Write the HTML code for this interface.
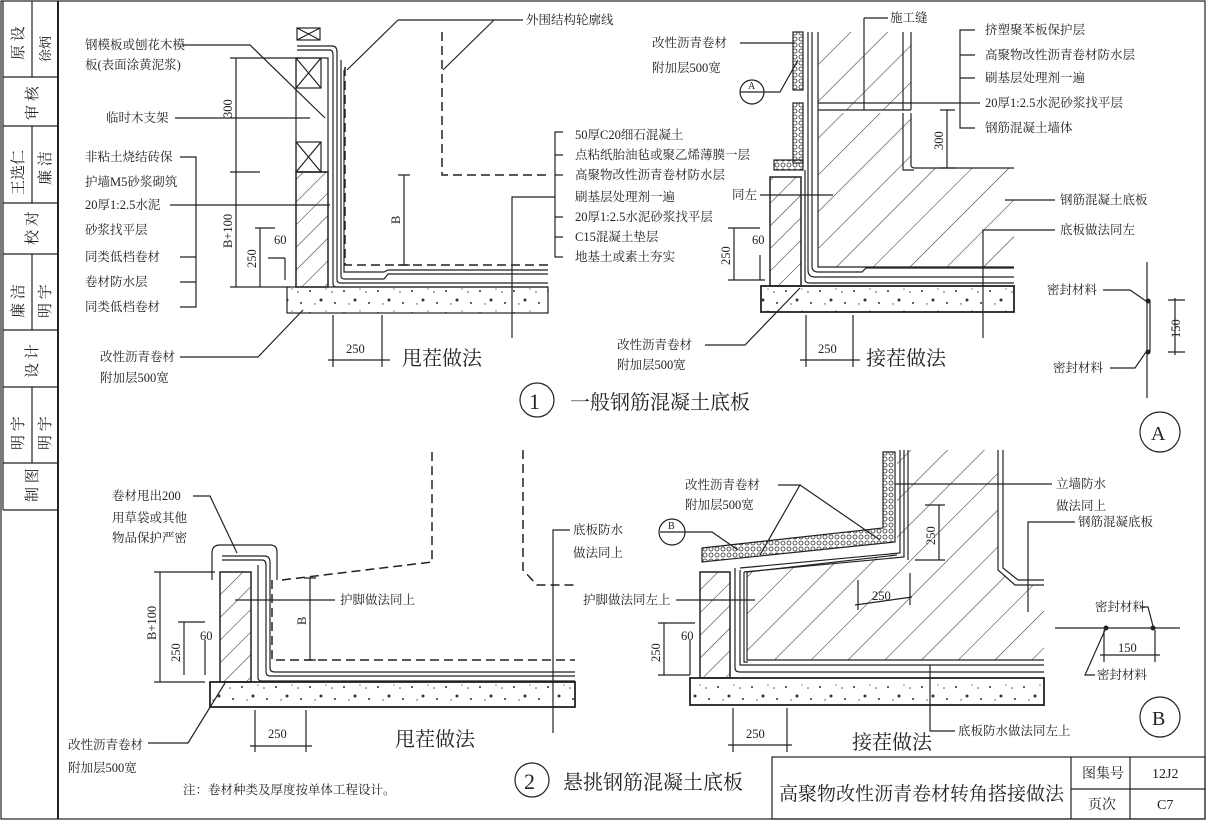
<!DOCTYPE html>
<html><head><meta charset="utf-8"><style>
html,body{margin:0;padding:0;background:#fff;}
svg{display:block;}
text{fill:#222;}
.t{font-family:"Liberation Serif","Noto Serif CJK SC",serif;}
.ln{stroke:#222;stroke-width:1.2;fill:none;}
.th{stroke:#222;stroke-width:2;fill:none;}
.ds{stroke:#222;stroke-width:1.5;fill:none;stroke-dasharray:9 5;}
</style></head><body>
<svg width="1206" height="821" viewBox="0 0 1206 821" xmlns="http://www.w3.org/2000/svg" font-size="12.5">
<defs>
<pattern id="h1" width="16" height="16" patternUnits="userSpaceOnUse" patternTransform="rotate(45)"><line x1="0" y1="0" x2="0" y2="16" stroke="#333" stroke-width="1.1"/></pattern>
<pattern id="h2" width="26" height="26" patternUnits="userSpaceOnUse" patternTransform="rotate(45)"><line x1="0" y1="0" x2="0" y2="26" stroke="#333" stroke-width="1.1"/></pattern>
<pattern id="dt" width="34" height="22" patternUnits="userSpaceOnUse"><circle cx="4" cy="5" r="1" fill="#333"/><circle cx="15" cy="14" r="1.5" fill="#333"/><circle cx="26" cy="6" r="0.8" fill="#444"/><circle cx="29" cy="17" r="1" fill="#333"/><circle cx="9" cy="18" r="0.7" fill="#444"/><circle cx="20" cy="3" r="0.6" fill="#444"/></pattern>
<pattern id="pb" width="6" height="6" patternUnits="userSpaceOnUse"><circle cx="3" cy="3" r="2" fill="none" stroke="#333" stroke-width="0.8"/></pattern>
</defs>

<rect x="1" y="1" width="1204" height="818" class="ln" stroke-width="1.5"/>
<line x1="58" y1="1" x2="58" y2="819" class="th"/>
<g class="ln">
<line x1="3" y1="1" x2="3" y2="510"/>
<line x1="3" y1="510" x2="58" y2="510"/>
<line x1="3" y1="77" x2="58" y2="77"/><line x1="3" y1="126" x2="58" y2="126"/>
<line x1="3" y1="203" x2="58" y2="203"/><line x1="3" y1="254" x2="58" y2="254"/>
<line x1="3" y1="330" x2="58" y2="330"/><line x1="3" y1="387" x2="58" y2="387"/>
<line x1="3" y1="463" x2="58" y2="463"/>
<line x1="32" y1="1" x2="32" y2="77"/><line x1="32" y1="126" x2="32" y2="203"/>
<line x1="32" y1="254" x2="32" y2="330"/><line x1="32" y1="387" x2="32" y2="463"/>
</g>
<g class="t" font-size="15">
<text transform="translate(23,60) rotate(-90)">原 设</text>
<text transform="translate(50,62) rotate(-90)" font-size="13">徐炳</text>
<text transform="translate(37,120) rotate(-90)">审 核</text>
<text transform="translate(23,195) rotate(-90)">王选仁</text>
<text transform="translate(50,185) rotate(-90)">廉 洁</text>
<text transform="translate(37,245) rotate(-90)">校 对</text>
<text transform="translate(23,318) rotate(-90)">廉 洁</text>
<text transform="translate(50,318) rotate(-90)">明 宇</text>
<text transform="translate(37,378) rotate(-90)">设 计</text>
<text transform="translate(23,450) rotate(-90)">明 宇</text>
<text transform="translate(50,450) rotate(-90)">明 宇</text>
<text transform="translate(37,502) rotate(-90)">制 图</text>
</g>

<!-- ===== Drawing 1 left ===== -->
<rect x="287" y="287" width="261" height="26" style="fill:url(#dt)" class="ln" stroke-width="1.8"/>
<rect x="296" y="172" width="32" height="115" style="fill:url(#h1);stroke:#222;stroke-width:1.5"/>
<rect x="296" y="58" width="32" height="114" class="ln"/>
<rect x="296" y="58" width="25" height="30" class="ln"/><path d="M296 58L321 88M321 58L296 88" class="ln"/>
<rect x="296" y="142" width="25" height="30" class="ln"/><path d="M296 142L321 172M321 142L296 172" class="ln"/>
<rect x="297" y="28" width="23" height="12" class="ln"/><path d="M297 28L320 40M320 28L297 40" class="ln"/>
<path d="M297 46H332Q337 46 337 52V280Q337 283 341 283H548" class="ln"/>
<path d="M297 50H330Q333 50 333 55V284Q333 287 337 287H548" class="ln"/>
<path d="M341 60V276Q341 279 345 279H384L388 274H548" class="ln"/>
<path d="M344 70V272H384L388 270H548" class="ln" stroke-width="0.8"/>
<path d="M345 67V265H548" class="ds"/>
<path d="M442 32V175H548" class="ds"/>
<path d="M398 20H523M398 20L347 70M494 20L443 70" class="ln"/>
<g class="t">
<text x="526" y="24">外围结构轮廓线</text>
<text x="85" y="49">钢模板或刨花木模</text><text x="85" y="69">板(表面涂黄泥浆)</text>
<text x="106" y="122">临时木支架</text>
<text x="85" y="161">非粘土烧结砖保</text>
<text x="85" y="186">护墙M5砂浆砌筑</text>
<text x="85" y="209">20厚1:2.5水泥</text>
<text x="85" y="234">砂浆找平层</text>
<text x="85" y="261">同类低档卷材</text>
<text x="85" y="286">卷材防水层</text>
<text x="85" y="311">同类低档卷材</text>
<text x="100" y="361">改性沥青卷材</text><text x="100" y="382">附加层500宽</text>
</g>
<path d="M182 45H250L325 118" class="ln"/>
<path d="M175 118H310" class="ln"/>
<path d="M180 157H196V307H180M180 257H196M180 282H196M170 205H330" class="ln"/>
<path d="M180 357H258L303 310" class="ln"/>
<g class="ln">
<path d="M236 58V287M230 58H300M230 172H260M230 287H290"/>
<path d="M260 228V287M255 228H275M268 258H285M285 258V280"/>
<path d="M404 175V265M398 175H410M398 265H410"/>
<path d="M333 315V367M382 315V367M328 360H390"/>
</g>
<g class="t">
<text transform="translate(232,118) rotate(-90)">300</text>
<text transform="translate(232,248) rotate(-90)">B+100</text>
<text transform="translate(256,268) rotate(-90)">250</text>
<text x="274" y="244">60</text>
<text transform="translate(400,224) rotate(-90)">B</text>
<text x="346" y="353">250</text>
<text x="402" y="365" font-size="20">甩茬做法</text>
<text x="575" y="139">50厚C20细石混凝土</text>
<text x="575" y="159">点粘纸胎油毡或聚乙烯薄膜一层</text>
<text x="575" y="179">高聚物改性沥青卷材防水层</text>
<text x="575" y="201">刷基层处理剂一遍</text>
<text x="575" y="221">20厚1:2.5水泥砂浆找平层</text>
<text x="575" y="241">C15混凝土垫层</text>
<text x="575" y="261">地基土或素土夯实</text>
</g>
<path d="M563 132H555V257H563M555 155H563M555 175H563M555 217H563M555 237H563M555 197H512V338" class="ln"/>

<!-- ===== Drawing 1 right ===== -->
<path d="M818 32V110H911V32ZM818 113V267H1014V168H911V113Z" style="fill:url(#h2)"/>
<path d="M818 32V267H1014M911 32V110M818 110H911M911 113V165Q911 168 915 168H1014" class="ln" stroke-width="1.6"/>
<rect x="761" y="286" width="253" height="26" style="fill:url(#dt);stroke:#222;stroke-width:1.8"/>
<rect x="770" y="177" width="31" height="109" style="fill:url(#h1);stroke:#222;stroke-width:1.5"/>
<rect x="793" y="32" width="10" height="58" style="fill:url(#pb);stroke:#222;stroke-width:1.2"/>
<rect x="793" y="103" width="10" height="60" style="fill:url(#pb);stroke:#222;stroke-width:1.2"/>
<rect x="774" y="160" width="29" height="10" style="fill:url(#pb);stroke:#222;stroke-width:1.2"/>
<path d="M808 32V270Q808 277 815 277H1014M812 32V266Q812 272 818 272H862L866 268H1014M805 170V280Q805 283 810 283H1014" class="ln" stroke-width="1"/>
<path d="M903 32V110M903 113V170H914" class="ln"/>
<path d="M864 18H888M864 18V110" class="ln"/>
<path d="M975 30H960V128H975M960 55H975M960 78H975M980 103H818" class="ln"/>
<path d="M740 43H795" class="ln"/>
<circle cx="752" cy="92" r="12" class="ln"/><path d="M740 92H764M764 92H780L798 60" class="ln"/>
<path d="M760 195H833" class="ln"/>
<path d="M1055 200H1005" class="ln"/>
<path d="M1055 230H983V338" class="ln"/>
<path d="M705 345H745L800 288" class="ln"/>
<g class="ln">
<path d="M947 110V168M940 110H955M940 168H955"/>
<path d="M734 228V280M728 228H760M728 280H765M760 255V280"/>
<path d="M806 315V367M853 315V367M800 360H860"/>
</g>
<g class="t">
<text x="890" y="22">施工缝</text>
<text x="985" y="34">挤塑聚苯板保护层</text>
<text x="985" y="59">高聚物改性沥青卷材防水层</text>
<text x="985" y="82">刷基层处理剂一遍</text>
<text x="985" y="107">20厚1:2.5水泥砂浆找平层</text>
<text x="985" y="132">钢筋混凝土墙体</text>
<text x="652" y="47">改性沥青卷材</text><text x="652" y="72">附加层500宽</text>
<text x="748" y="89" font-size="10">A</text>
<text x="732" y="199">同左</text>
<text x="1060" y="204">钢筋混凝土底板</text>
<text x="1060" y="234">底板做法同左</text>
<text x="617" y="349">改性沥青卷材</text><text x="617" y="369">附加层500宽</text>
<text transform="translate(943,150) rotate(-90)">300</text>
<text transform="translate(730,265) rotate(-90)">250</text>
<text x="752" y="244">60</text>
<text x="818" y="353">250</text>
<text x="866" y="365" font-size="20">接茬做法</text>
<text transform="translate(1180,338) rotate(-90)">150</text>
<text x="1047" y="294">密封材料</text>
<text x="1053" y="372">密封材料</text>
<text x="1151" y="440" font-size="20">A</text>
<text x="529" y="409" font-size="22">1</text>
<text x="570" y="409" font-size="20">一般钢筋混凝土底板</text>
</g>
<path d="M1147 262V398M1150 300V352" class="ln"/>
<circle cx="1148" cy="301" r="2.5" fill="#222"/><circle cx="1148" cy="352" r="2.5" fill="#222"/>
<path d="M1175 298V355M1168 300H1185M1168 352H1185" class="ln"/>
<path d="M1103 290H1130L1146 301" class="ln"/>
<path d="M1110 368H1135L1146 352" class="ln"/>
<circle cx="1160" cy="432" r="20" class="ln"/>
<circle cx="537" cy="400" r="17" class="ln" stroke-width="1.5"/>

<!-- ===== Drawing 2 left ===== -->
<rect x="210" y="682" width="365" height="25" style="fill:url(#dt);stroke:#222;stroke-width:1.8"/>
<rect x="220" y="572" width="31" height="110" style="fill:url(#h1);stroke:#222;stroke-width:1.5"/>
<path d="M212 580V553Q212 545 220 545H270Q277 545 277 552V580" class="ln"/>
<path d="M222 560H262Q266 560 266 565V672Q266 676 270 676H575M222 556H264Q270 556 270 562V668Q270 672 275 672H575M258 565V678Q258 681 262 681H575" class="ln" stroke-width="1"/>
<path d="M272 580V660H575" class="ds"/>
<path d="M282 580L432 562V450" class="ds"/>
<path d="M523 450V570L537 585H575" class="ds"/>
<path d="M193 496H210L237 553" class="ln"/>
<path d="M235 600H335" class="ln"/>
<path d="M148 743H188L225 683" class="ln"/>
<path d="M570 530H553V733" class="ln"/>
<g class="ln">
<path d="M160 572V682M154 572H215M154 682H205"/>
<path d="M184 622V675M178 622H205M205 640V675"/>
<path d="M310 578V660M304 578H316M304 660H316"/>
<path d="M255 710V752M306 710V752M250 746H312"/>
</g>
<g class="t">
<text x="112" y="500">卷材甩出200</text><text x="112" y="522">用草袋或其他</text><text x="112" y="542">物品保护严密</text>
<text x="340" y="604">护脚做法同上</text>
<text x="68" y="749">改性沥青卷材</text><text x="68" y="772">附加层500宽</text>
<text x="183" y="794">注：卷材种类及厚度按单体工程设计。</text>
<text x="573" y="534">底板防水</text><text x="573" y="557">做法同上</text>
<text transform="translate(156,640) rotate(-90)">B+100</text>
<text transform="translate(180,662) rotate(-90)">250</text>
<text x="200" y="640">60</text>
<text transform="translate(306,625) rotate(-90)">B</text>
<text x="268" y="738">250</text>
<text x="395" y="746" font-size="20">甩茬做法</text>
<text x="524" y="789" font-size="22">2</text>
<text x="563" y="789" font-size="20">悬挑钢筋混凝土底板</text>
</g>
<circle cx="532" cy="780" r="17" class="ln" stroke-width="1.5"/>

<!-- ===== Drawing 2 right ===== -->
<path d="M747 572L897 555V450H998V570L1015 585H1044V660H747Z" style="fill:url(#h2)"/>
<path d="M747 572L897 555M908 450V560M998 450V570L1015 585H1044M747 572V660H1044" class="ln" stroke-width="1.5"/>
<path d="M1003 450V568L1018 580H1044" class="ln"/>
<path d="M702 548L883 528V452H895V542L702 562Z" style="fill:url(#pb);stroke:#222;stroke-width:1.2"/>
<path d="M900 450V553L740 568M904 450V557L744 572" class="ln" stroke-width="0.9"/>
<rect x="690" y="678" width="354" height="27" style="fill:url(#dt);stroke:#222;stroke-width:1.8"/>
<rect x="700" y="572" width="30" height="106" style="fill:url(#h1);stroke:#222;stroke-width:1.5"/>
<path d="M735 568V668Q735 672 740 672H1044M740 570V665H1044M744 572V662H748" class="ln" stroke-width="1"/>
<path d="M778 485H800L760 555M800 485L880 540" class="ln"/>
<circle cx="672" cy="532" r="13" class="ln"/><path d="M660 532H684M684 532H712L738 550" class="ln"/>
<path d="M676 600H755" class="ln"/>
<path d="M1052 484H895" class="ln"/>
<path d="M1075 522H1028V612" class="ln"/>
<path d="M955 731H930V665" class="ln"/>
<g class="ln">
<path d="M939 505V560M925 505H945M915 560H945"/>
<path d="M858 580V610M910 573V605M855 605L912 597"/>
<path d="M664 623V675M658 623H695M658 675H690M690 640V675"/>
<path d="M733 708V752M787 708V752M728 745H792"/>
</g>
<path d="M1055 628H1180" class="ln"/>
<circle cx="1106" cy="628" r="2.5" fill="#222"/><circle cx="1153" cy="628" r="2.5" fill="#222"/>
<path d="M1104 630V662M1155 630V662M1100 655H1160" class="ln"/>
<path d="M1140 607H1148L1153 626" class="ln"/>
<path d="M1095 675H1085L1105 630" class="ln"/>
<circle cx="1160" cy="717" r="20" class="ln"/>
<g class="t">
<text x="685" y="489">改性沥青卷材</text><text x="685" y="509">附加层500宽</text>
<text x="668" y="529" font-size="10">B</text>
<text x="583" y="604">护脚做法同左上</text>
<text x="1056" y="488">立墙防水</text><text x="1056" y="510">做法同上</text>
<text x="1078" y="526">钢筋混凝底板</text>
<text x="958" y="735">底板防水做法同左上</text>
<text transform="translate(935,545) rotate(-90)">250</text>
<text x="872" y="600">250</text>
<text transform="translate(660,662) rotate(-90)">250</text>
<text x="681" y="640">60</text>
<text x="746" y="738">250</text>
<text x="852" y="749" font-size="20">接茬做法</text>
<text x="1118" y="652">150</text>
<text x="1095" y="611">密封材料</text>
<text x="1097" y="679">密封材料</text>
<text x="1152" y="725" font-size="20">B</text>
</g>

<!-- title block -->
<rect x="772" y="757" width="433" height="62" class="ln" stroke-width="1.8"/>
<path d="M1071 757V819M1130 757V819M1071 789H1205" class="ln"/>
<g class="t">
<text x="779" y="800" font-size="19">高聚物改性沥青卷材转角搭接做法</text>
<text x="1082" y="778" font-size="14">图集号</text>
<text x="1152" y="778" font-size="14">12J2</text>
<text x="1088" y="809" font-size="14">页次</text>
<text x="1157" y="809" font-size="14">C7</text>
</g>
</svg>
</body></html>
